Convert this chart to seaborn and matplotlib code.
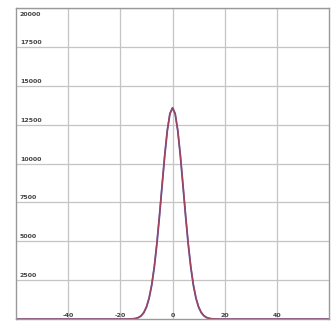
import matplotlib
matplotlib.use("Agg")
import matplotlib.pyplot as plt
import seaborn as sns
import pandas as pd

# curve samples (peak ~13600 at 0)
x_pts = [-60, -20, -18, -16, -15, -14, -13, -12, -11, -10, -9, -8, -7, -6, -5, -4, -3, -2, -1,
         0, 1, 2, 3, 4, 5, 6, 7, 8, 9, 10, 11, 12, 13, 14, 15, 16, 18, 20, 60]
red_vals = [0, 0, 1, 10, 24, 52, 113, 229, 441, 799, 1370, 2217, 3392, 4903, 6696, 8642, 10538, 12143, 13222,
            13600, 13222, 12143, 10538, 8642, 6696, 4903, 3392, 2217, 1370, 799, 441, 229, 113, 52, 24, 10, 1, 0, 0]
blue_vals = [0, 0, 1, 9, 21, 47, 104, 215, 420, 770, 1330, 2170, 3335, 4850, 6650, 8600, 10510, 12130, 13210,
             13580, 13210, 12130, 10510, 8600, 6650, 4850, 3335, 2170, 1330, 770, 420, 215, 104, 47, 21, 9, 1, 0, 0]

x_ticks = [-40, -20, 0, 20, 40]
y_ticks = [2500, 5000, 7500, 10000, 12500, 15000, 17500, 20000]

df = pd.DataFrame({"x": x_pts, "red": red_vals, "blue": blue_vals})

sns.set_style("white")
fig = plt.figure(figsize=(3.36, 3.22), dpi=100)
ax = fig.add_axes([0.048, 0.009, 0.931, 0.966])

sns.lineplot(data=df, x="x", y="blue", ax=ax, color="#4b4ea6", linewidth=1.3)
sns.lineplot(data=df, x="x", y="red", ax=ax, color="#b5414e", linewidth=1.0, alpha=0.85)

ax.set_xlim(-60, 60)
ax.set_ylim(0, 20000)
ax.set_xticks(x_ticks)
ax.set_yticks(y_ticks)
ax.grid(True, color="#c4c4c4", linewidth=0.9)
ax.tick_params(length=0, labelbottom=False, labelleft=False)
ax.set_xlabel("")
ax.set_ylabel("")
for s in ax.spines.values():
    s.set_color("#999999")
    s.set_linewidth(1.0)

# tick labels drawn inside the plot area
for v in y_ticks:
    if v == y_ticks[-1]:
        ax.text(0.012, v - 250, f"{v}", transform=ax.get_yaxis_transform(),
                fontsize=4.5, color="#444444", fontweight="bold", ha="left", va="top")
    else:
        ax.text(0.012, v + 130, f"{v}", transform=ax.get_yaxis_transform(),
                fontsize=4.5, color="#444444", fontweight="bold", ha="left", va="bottom")
for v in x_ticks:
    ax.text(v, 0.004, f"{v}", transform=ax.get_xaxis_transform(),
            fontsize=4.5, color="#444444", fontweight="bold", ha="center", va="bottom")

fig.savefig("out.png", dpi=100)
